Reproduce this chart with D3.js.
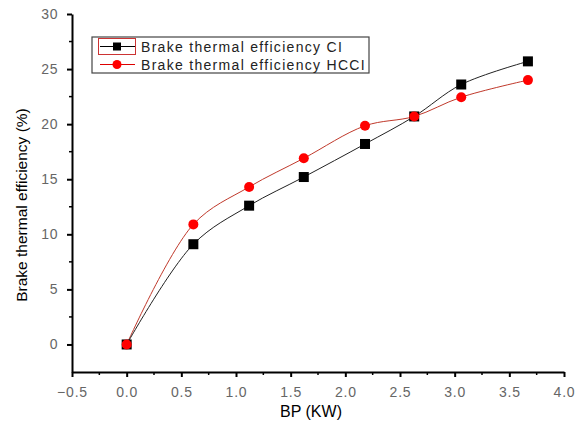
<!DOCTYPE html>
<html>
<head>
<meta charset="utf-8">
<script src="https://cdn.jsdelivr.net/npm/d3@7"></script>
<style>
  body { margin: 0; background: #fff; }
  text { font-family: "Liberation Sans", Arial, sans-serif; }
</style>
</head>
<body>
<div id="chart"></div>
<script>
// values
let bp = [0.0, 0.61, 1.12, 1.62, 2.18, 2.63, 3.06, 3.67];
let bteCI = [0.0, 9.1, 12.6, 15.2, 18.2, 20.7, 23.6, 25.7];
let bteHCCI = [0.0, 10.9, 14.3, 16.9, 19.85, 20.7, 22.45, 24.0];
let xTicks = [-0.5, 0.0, 0.5, 1.0, 1.5, 2.0, 2.5, 3.0, 3.5, 4.0];
let yTicks = [0, 5, 10, 15, 20, 25, 30];
let seriesNames = ["Brake thermal efficiency CI", "Brake thermal efficiency HCCI"];

let width = 579, height = 424;
let margin = {L: 72, R: 15, T: 14, B: 52};

let svg = d3.select("#chart").append("svg")
  .attr("width", width)
  .attr("height", height);

let x = d3.scaleLinear().domain([-0.5, 4.0]).range([margin.L, 564]);
let y = d3.scaleLinear().domain([-2.5, 30]).range([height - margin.B, margin.T]);

/* axes */
let xAxis = svg.append("g")
  .attr("transform", `translate(0,${y(-2.5)})`)
  .call(d3.axisBottom(x).tickValues(xTicks).tickFormat(d3.format(".1f")).tickSize(5).tickSizeOuter(0));
let yAxis = svg.append("g")
  .attr("transform", `translate(${x(-0.5)},0)`)
  .call(d3.axisLeft(y).tickValues(yTicks).tickSize(5).tickSizeOuter(0));

// minor ticks
let xMinor = d3.range(-0.25, 4.0, 0.5);
let yMinor = d3.range(2.5, 30, 5);
xAxis.selectAll(".minor").data(xMinor).enter().append("line")
  .attr("x1", (d) => x(d)).attr("x2", (d) => x(d))
  .attr("y1", 0).attr("y2", 3)
  .attr("stroke", "#000").attr("stroke-width", 1.5);
yAxis.selectAll(".minor").data(yMinor).enter().append("line")
  .attr("y1", (d) => y(d)).attr("y2", (d) => y(d))
  .attr("x1", 0).attr("x2", -3)
  .attr("stroke", "#000").attr("stroke-width", 1.5);

[xAxis, yAxis].forEach((a) => {
  a.select(".domain").attr("stroke-width", 2);
  a.selectAll(".tick line").attr("stroke-width", 2);
  a.selectAll(".tick text").attr("fill", "#666")
    .style("font-size", "14px")
    .style("letter-spacing", "0.8px");
});
xAxis.selectAll(".tick text").attr("dy", "1.2em");
yAxis.selectAll(".tick text").attr("dx", "-0.4em");

/* titles */
svg.append("text")
  .attr("x", 311).attr("y", 417)
  .attr("text-anchor", "middle")
  .style("font-size", "16px")
  .text("BP (KW)");
svg.append("text")
  .attr("transform", "translate(27,205) rotate(-90)")
  .attr("text-anchor", "middle")
  .style("font-size", "15.5px")
  .text("Brake thermal efficiency (%)");

/* lines */
let line = (ys) => d3.line()
  .x((d, i) => x(bp[i]))
  .y((d) => y(d))
  .curve(d3.curveCatmullRom.alpha(0.5))(ys);

svg.append("path").attr("d", line(bteHCCI))
  .attr("fill", "none").attr("stroke", "#c0392b").attr("stroke-width", 1);
svg.append("path").attr("d", line(bteCI))
  .attr("fill", "none").attr("stroke", "#222").attr("stroke-width", 1);

svg.append("g").selectAll("rect").data(bteCI).enter().append("rect")
  .attr("x", (d, i) => x(bp[i]) - 5)
  .attr("y", (d) => y(d) - 5)
  .attr("width", 10).attr("height", 10)
  .attr("fill", "#000");
svg.append("g").selectAll("circle").data(bteHCCI).enter().append("circle")
  .attr("cx", (d, i) => x(bp[i]))
  .attr("cy", (d) => y(d))
  .attr("r", 5)
  .attr("fill", "#f00");

/* legend */
let lg = svg.append("g");
lg.append("rect")
  .attr("x", 92).attr("y", 37).attr("width", 277).attr("height", 36)
  .attr("fill", "#fff").attr("stroke", "#444").attr("stroke-width", 1.2);
lg.append("rect")
  .attr("x", 98.5).attr("y", 38.5).attr("width", 37).attr("height", 16)
  .attr("fill", "none").attr("stroke", "#c33").attr("stroke-width", 1);
let rows = [46.5, 64.5];
lg.append("line").attr("x1", 100).attr("x2", 135).attr("y1", rows[0]).attr("y2", rows[0])
  .attr("stroke", "#000");
lg.append("rect").attr("x", 113).attr("y", rows[0] - 4).attr("width", 8).attr("height", 8).attr("fill", "#000");
lg.append("line").attr("x1", 100).attr("x2", 135).attr("y1", rows[1]).attr("y2", rows[1])
  .attr("stroke", "#d00");
lg.append("circle").attr("cx", 117).attr("cy", rows[1]).attr("r", 4.5).attr("fill", "#f00");
seriesNames.forEach((name, i) => {
  lg.append("text")
    .attr("x", 141).attr("y", rows[i] + 5)
    .style("font-size", "14px")
    .style("letter-spacing", "1.3px")
    .attr("fill", "#222")
    .text(name);
});
</script>
</body>
</html>
